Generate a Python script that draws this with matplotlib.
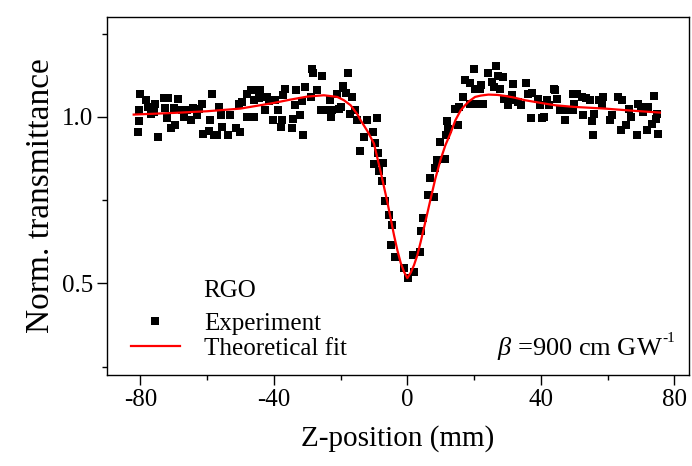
import matplotlib
matplotlib.use("Agg")
import matplotlib.pyplot as plt
from matplotlib.ticker import MultipleLocator

plt.rcParams['font.family'] = ['Liberation Serif', 'DejaVu Serif']
plt.rcParams['mathtext.fontset'] = 'custom'
plt.rcParams['mathtext.rm'] = 'Liberation Serif'
plt.rcParams['mathtext.it'] = 'Liberation Serif:italic'

# Experimental Z-scan data (z in mm, normalized transmittance)
exp_z = [-80.5, -80.6, -80.4, -80.0, -78.3, -77.8, -76.8, -76.5, -75.8, -75.5, -74.7, -73.0,
         -72.6, -72.1, -71.7, -70.9, -69.9, -69.6, -68.6, -67.4, -66.9, -65.9, -64.7, -64.1,
         -62.9, -62.4, -61.6, -61.2, -59.4, -59.1, -58.6, -57.9, -56.9, -56.4, -55.9, -55.4,
         -53.7, -53.2, -51.4, -50.4,
         -50.2, -49.6, -47.9, -47.9, -46.0, -46.9, -45.5, -44.3, -46.0, -44.5, -42.7, -42.0,
         -41.5, -40.2, -39.7, -38.7, -37.5, -38.0, -36.7, -37.2, -34.7, -34.3, -33.7, -33.5,
         -32.2, -31.2, -31.7, -30.8, -29.0, -28.5, -28.2, -27.0, -25.7, -26.0, -24.0, -22.5,
         -23.0, -23.2, -21.0, -20.5, -19.3,
         -17.8, -19.2, -18.5, -16.5, -19.8, -17.3, -15.6, -15.0, -12.1, -9.1, -12.9, -10.4,
         -14.3, -9.6, -8.9, -9.9, -7.3, -8.6, -7.6, -6.8, -5.6, -4.6, -4.8, -3.8, -1.1, 0.1,
         1.7, 2.1, 3.7, 4.2, 4.7, 6.2, 7.9, 6.9, 8.4, 8.9, 11.4, 9.7, 11.7, 11.9, 12.2,
         15.2, 14.4, 15.6, 16.8, 18.8, 21.3, 22.8, 17.3, 18.8, 20.1, 20.3, 21.8, 22.1, 24.1,
         25.3, 26.1, 26.6, 27.3, 28.8, 27.8, 29.1, 30.3, 30.8, 31.3, 31.6, 33.3, 34.1, 35.6,
         36.1, 37.5, 37.1, 40.3, 39.1, 39.8, 41.8, 42.3, 43.8, 40.8, 44.3, 47.3,
         44.8, 45.8, 47.2, 48.2, 49.7, 49.5, 50.7, 49.9, 52.2, 52.7, 53.5, 54.7, 55.2, 55.9,
         55.5, 57.5, 58.7, 58.2, 61.2, 60.7, 63.2, 64.2, 63.9, 65.5, 66.5, 67.0, 68.9, 69.2,
         69.9, 70.7, 72.2, 71.7, 73.2, 73.9, 74.5, 74.9, 75.2]
exp_t = [0.987, 0.955, 1.02, 1.07, 1.05, 1.03, 1.008, 1.03, 1.015, 1.04, 0.94, 1.057,
         1.028, 0.998, 1.057, 0.967, 1.028, 0.977, 1.055, 1.02, 1.0, 1.02, 0.99, 1.027,
         1.005, 1.025, 1.04, 0.948, 0.957, 0.99, 1.07, 0.946, 0.946, 1.03, 1.007, 0.97,
         0.947, 1.007, 0.967, 1.04,
         0.955, 1.045, 1.07, 1.0, 1.0, 1.08, 1.08, 1.08, 1.05, 1.057, 1.02, 1.06,
         1.047, 0.99, 1.05, 1.02, 0.99, 0.97, 1.085, 1.067, 0.967, 0.995, 1.037, 1.08,
         1.007, 0.947, 1.047, 1.09, 1.06, 1.143, 1.133, 1.08, 1.123, 1.02, 1.02, 1.02,
         1.0, 1.05, 1.07, 1.025, 1.087,
         1.133, 1.093, 1.073, 1.06, 1.03, 1.01, 1.02, 0.99, 0.99, 0.997, 0.94, 0.955,
         0.897, 0.923, 0.893, 0.86, 0.863, 0.837, 0.807, 0.747, 0.705, 0.675, 0.615, 0.58, 0.545, 0.515,
         0.585, 0.535, 0.595, 0.657, 0.695, 0.765, 0.76, 0.817, 0.847, 0.87, 0.873, 0.925, 0.945, 0.987, 0.965,
         0.977, 1.025, 1.03, 1.06, 1.04, 1.04, 1.04, 1.11, 1.103, 1.145, 1.085, 1.085, 1.095, 1.133,
         1.105, 1.09, 1.152, 1.123, 1.12, 1.085, 1.053, 1.037, 1.05, 1.067, 1.1, 1.045, 1.037, 1.103,
         1.07, 1.073, 0.997, 0.997, 1.055, 1.037, 1.05, 1.035, 1.085, 1.0, 1.08, 0.99,
         1.055, 1.02, 0.99, 1.02, 1.02, 1.07, 1.07, 1.04, 1.06, 1.007, 1.057, 1.05, 0.987, 1.01,
         0.947, 1.05, 1.06, 1.035, 1.005, 0.99, 1.06, 1.05, 0.96, 0.977, 1.025, 1.0, 0.947, 1.04,
         1.03, 1.015, 1.03, 0.96, 0.98, 1.063, 0.995, 1.01, 0.948]

# Theoretical fit curve
fit_z = [-82, -70, -60, -50, -40, -35, -30, -25, -21, -19, -17, -15, -14, -12, -10, -8, -7,
         -6, -5, -4, -3, -2, -1, 0, 1, 2, 3, 4, 5.4, 7, 8.4, 10, 11.4, 12.9, 14.4, 16,
         17.3, 18.5, 20.3, 22, 24.3, 27, 29.3, 32, 35.3, 40, 44.3, 50, 59.2, 67, 75.7]
fit_t = [1.007, 1.012, 1.017, 1.025, 1.042, 1.052, 1.061, 1.065, 1.06, 1.05, 1.035, 1.008,
         0.99, 0.958, 0.92, 0.835, 0.79, 0.745, 0.695, 0.645, 0.6, 0.562, 0.535, 0.516,
         0.532, 0.555, 0.585, 0.625, 0.685, 0.755, 0.815, 0.873, 0.915, 0.95, 0.99, 1.02,
         1.035, 1.047, 1.06, 1.064, 1.067, 1.066, 1.063, 1.058, 1.05, 1.042, 1.035, 1.03,
         1.025, 1.019, 1.013]

xticks = [-80, -40, 0, 40, 80]
yticks = [0.5, 1.0]

fig = plt.figure(figsize=(6.92, 4.66), dpi=100)
ax = fig.add_axes([107/692, 1-375/466, (689-107)/692, (375-17)/466])

ax.plot(exp_z, exp_t, linestyle='none', marker='s', markersize=5.2, color='black',
        markeredgewidth=0, label='Experiment')
ax.plot(fit_z, fit_t, color='red', linewidth=1.6, label='Theoretical fit')

ax.set_xlim(-90, 84.4)
ax.set_ylim(0.225, 1.30)
ax.set_xticks(xticks)
ax.set_xticklabels([str(v) for v in xticks])
ax.set_yticks(yticks)
ax.set_yticklabels(['%.1f' % v for v in yticks])
ax.xaxis.set_minor_locator(MultipleLocator(20))
ax.yaxis.set_minor_locator(MultipleLocator(0.25))
ax.tick_params(which='major', direction='out', length=7, width=1.0, labelsize=18, pad=3)
ax.tick_params(which='minor', direction='out', length=3.6, width=1.0)
ax.tick_params(top=False, right=False, which='both')
for s in ax.spines.values():
    s.set_linewidth(1.0)

ax.set_xlabel('Z-position (mm)', fontsize=21, labelpad=10)
ax.set_ylabel('Norm. transmittance', fontsize=24, labelpad=4)

leg = ax.legend(loc='center left', bbox_to_anchor=(0.041, 0.109), frameon=False,
                fontsize=18, handlelength=1.96, handletextpad=0.96, labelspacing=0.1,
                borderpad=0, borderaxespad=0)
ax.text(0.165, 0.235, 'RGO', transform=ax.transAxes, fontsize=18, va='center', ha='left')
bt = ax.text(0.67, 0.075, r'$\beta$ =900 cm GW', transform=ax.transAxes,
             fontsize=19, va='center', ha='left')
ax.annotate('-1', xy=(1.0, 0.62), xycoords=bt, fontsize=11, va='bottom', ha='left')

fig.savefig('out.png', dpi=100)
